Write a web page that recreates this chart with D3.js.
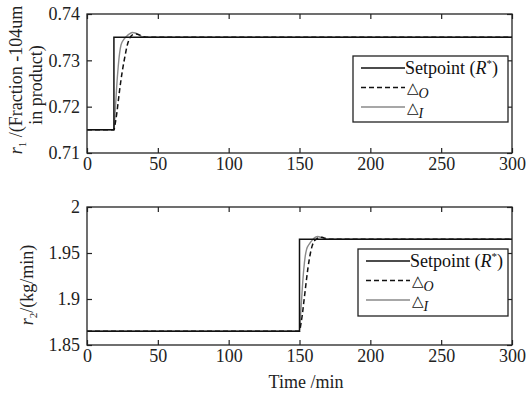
<!DOCTYPE html>
<html>
<head>
<meta charset="utf-8">
<script src="https://cdn.jsdelivr.net/npm/d3@7"></script>
<style>
    body { margin: 0; background: #fff; }
    svg { display: block; font-family: "Liberation Serif", "Times New Roman", serif; }
</style>
</head>
<body>
<div id="chart"></div>
<script>
// x ticks shared by both panels
const timeTicks = [0, 50, 100, 150, 200, 250, 300];

// panel 1: r1 (fraction -104um in product)
const r1Ticks = [0.71, 0.72, 0.73, 0.74];
const r1SetTime = [0, 19, 19, 300];
const r1SetVal = [0.715, 0.715, 0.735, 0.735];
const r1OTime = [0, 19, 20, 21, 22, 23, 24, 25, 26, 27, 28, 29, 30, 31, 33, 35, 37, 39, 42, 300];
const r1OVal = [0.715, 0.715, 0.7165, 0.7185, 0.7210, 0.7235, 0.7258, 0.7278, 0.7296, 0.7312, 0.7327, 0.7339, 0.7347, 0.7352, 0.7356, 0.7357, 0.7355, 0.7352, 0.7350, 0.735];
const r1ITime = [0, 19, 20, 21, 22, 23, 24, 26, 28, 30, 32, 34, 36, 38, 41, 300];
const r1IVal = [0.715, 0.715, 0.7195, 0.7245, 0.7285, 0.7315, 0.7333, 0.7345, 0.7352, 0.7357, 0.7360, 0.7359, 0.7356, 0.7352, 0.7350, 0.735];

// panel 2: r2 (kg/min)
const r2Ticks = [1.85, 1.9, 1.95, 2];
const r2SetTime = [0, 150, 150, 300];
const r2SetVal = [1.865, 1.865, 1.965, 1.965];
const r2OTime = [0, 150, 151, 152, 153, 154, 155, 156, 157, 158, 159, 160, 162, 164, 166, 168, 171, 300];
const r2OVal = [1.865, 1.865, 1.873, 1.883, 1.896, 1.909, 1.922, 1.934, 1.944, 1.952, 1.958, 1.962, 1.965, 1.967, 1.967, 1.966, 1.965, 1.965];
const r2ITime = [0, 150, 151, 152, 153, 154, 155, 157, 159, 161, 163, 165, 167, 170, 300];
const r2IVal = [1.865, 1.865, 1.888, 1.912, 1.932, 1.946, 1.954, 1.960, 1.964, 1.967, 1.968, 1.967, 1.966, 1.965, 1.965];

const W = 529, H = 394;
const FS = '18px';
const svg = d3.select('#chart').append('svg')
    .attr('width', W)
    .attr('height', H);

const x = d3.scaleLinear().domain([0, 300]).range([87, 512]);
const fmt = d => d3.format('')(+d.toFixed(2));

function drawPanel(p) {
    const y = d3.scaleLinear().domain(p.domain).range([p.bottom, p.top]);
    const g = svg.append('g');

    const zip = (a, b) => a.map((t, i) => [t, b[i]]);
    const line = d3.line().x(d => x(d[0])).y(d => y(d[1]));
    const smooth = d3.line().x(d => x(d[0])).y(d => y(d[1])).curve(d3.curveMonotoneX);

    g.append('path')
        .attr('d', smooth(zip(p.iTime, p.iVal)))
        .attr('fill', 'none')
        .attr('stroke', '#8a8a8a')
        .attr('stroke-width', 1.4);
    g.append('path')
        .attr('d', smooth(zip(p.oTime, p.oVal)))
        .attr('fill', 'none')
        .attr('stroke', '#111')
        .attr('stroke-width', 1.5)
        .attr('stroke-dasharray', '5,3');
    g.append('path')
        .attr('d', line(zip(p.setTime, p.setVal)))
        .attr('fill', 'none')
        .attr('stroke', '#111')
        .attr('stroke-width', 1.5);

    // axes, ticks pointing inward
    const axes = [
        [d3.axisBottom(x).tickValues(timeTicks).tickFormat(d3.format('d')).tickPadding(4), `translate(0,${p.bottom})`],
        [d3.axisTop(x).tickValues(timeTicks).tickFormat(''), `translate(0,${p.top})`],
        [d3.axisLeft(y).tickValues(p.ticks).tickFormat(fmt).tickPadding(7), `translate(${x(0)},0)`],
        [d3.axisRight(y).tickValues(p.ticks).tickFormat(''), `translate(${x(300)},0)`]
    ];
    axes.forEach(([ax, tr]) => {
        const a = g.append('g')
            .attr('transform', tr)
            .call(ax.tickSizeInner(-5).tickSizeOuter(0));
        a.select('.domain').remove();
        a.selectAll('line').attr('stroke', '#222').attr('stroke-width', 1.2);
        a.selectAll('text')
            .attr('fill', '#222')
            .style('font-family', '"Liberation Serif", serif')
            .style('font-size', FS);
    });

    g.append('rect')
        .attr('x', x(0))
        .attr('y', p.top)
        .attr('width', x(300) - x(0))
        .attr('height', p.bottom - p.top)
        .attr('fill', 'none')
        .attr('stroke', '#222')
        .attr('stroke-width', 1.3);

    // legend
    const L = p.legend;
    const lg = g.append('g');
    lg.append('rect')
        .attr('x', L.x).attr('y', L.y)
        .attr('width', L.w).attr('height', L.h)
        .attr('fill', '#fff')
        .attr('stroke', '#222')
        .attr('stroke-width', 1.3);
    const items = [
        { stroke: '#111', dash: null },
        { stroke: '#111', dash: '5,3' },
        { stroke: '#8a8a8a', dash: null }
    ];
    items.forEach((it, i) => {
        const yy = L.y + 12 + i * 19.5;
        lg.append('line')
            .attr('x1', L.x + 8).attr('x2', L.x + 52)
            .attr('y1', yy).attr('y2', yy)
            .attr('stroke', it.stroke)
            .attr('stroke-width', 1.5)
            .attr('stroke-dasharray', it.dash);
    });
    const t0 = lg.append('text')
        .attr('x', L.x + 52).attr('y', L.y + 18)
        .style('font-size', FS).attr('fill', '#111');
    t0.append('tspan').text('Setpoint (');
    t0.append('tspan').attr('font-style', 'italic').text('R');
    t0.append('tspan').attr('font-size', '11px').attr('dy', -7).text('*');
    t0.append('tspan').attr('dy', 7).text(')');
    ['O', 'I'].forEach((s, i) => {
        const t = lg.append('text')
            .attr('x', L.x + 54).attr('y', L.y + 37 + i * 19.5)
            .style('font-size', '15px').attr('fill', '#111');
        t.append('tspan').style('font-family', '"DejaVu Sans", sans-serif').text('\u25B3');
        t.append('tspan').attr('font-style', 'italic').attr('font-size', '14px').attr('dy', 5).text(s);
    });
}

drawPanel({
    domain: [0.71, 0.74], top: 14, bottom: 153, ticks: r1Ticks,
    setTime: r1SetTime, setVal: r1SetVal,
    oTime: r1OTime, oVal: r1OVal,
    iTime: r1ITime, iVal: r1IVal,
    legend: { x: 353, y: 56, w: 155, h: 66 }
});

drawPanel({
    domain: [1.85, 2.0], top: 207, bottom: 345, ticks: r2Ticks,
    setTime: r2SetTime, setVal: r2SetVal,
    oTime: r2OTime, oVal: r2OVal,
    iTime: r2ITime, iVal: r2IVal,
    legend: { x: 358, y: 249, w: 150, h: 67 }
});

// axis titles
const yl1 = svg.append('text')
    .attr('transform', 'translate(22,80) rotate(-90)')
    .attr('text-anchor', 'middle')
    .style('font-size', FS).attr('fill', '#222');
yl1.append('tspan').attr('font-style', 'italic').text('r');
yl1.append('tspan').attr('font-size', '11px').attr('dy', 4).text('1');
yl1.append('tspan').attr('dy', -4).text(' /(Fraction -104um');
svg.append('text')
    .attr('transform', 'translate(42,85) rotate(-90)')
    .attr('text-anchor', 'middle')
    .style('font-size', FS).attr('fill', '#222')
    .text('in product)');

const yl2 = svg.append('text')
    .attr('transform', 'translate(33,285) rotate(-90)')
    .attr('text-anchor', 'middle')
    .style('font-size', FS).attr('fill', '#222');
yl2.append('tspan').attr('font-style', 'italic').text('r');
yl2.append('tspan').attr('font-size', '11px').attr('dy', 4).text('2');
yl2.append('tspan').attr('dy', -4).text('/(kg/min)');

svg.append('text')
    .attr('x', 306).attr('y', 388)
    .attr('text-anchor', 'middle')
    .style('font-size', FS).attr('fill', '#222')
    .text('Time /min');
</script>
</body>
</html>
